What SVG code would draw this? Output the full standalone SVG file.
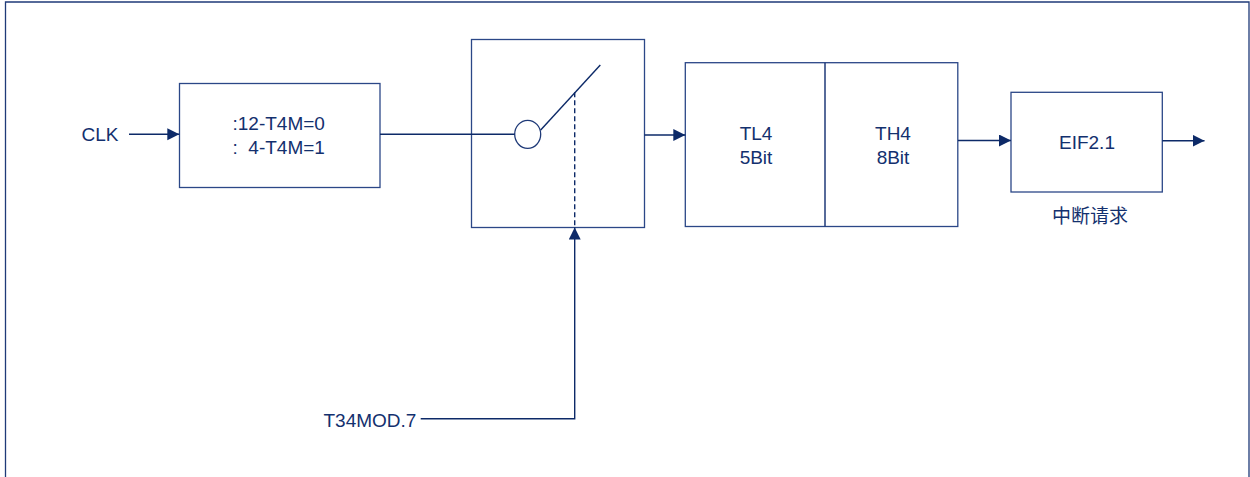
<svg xmlns="http://www.w3.org/2000/svg" width="1250" height="477" viewBox="0 0 1250 477">
<style>
.box{fill:#ffffff;stroke:#2b4787;stroke-width:1.3}
.ln{fill:none;stroke:#0d2a68;stroke-width:1.4}
.dash{fill:none;stroke:#0d2a68;stroke-width:1.4;stroke-dasharray:5,3}
.t{font-family:"Liberation Sans",Arial,sans-serif;font-size:19px;fill:#13306e}
.c{text-anchor:middle}
.cjk{font-family:"Liberation Sans","Noto Sans CJK SC",sans-serif}
</style>
<defs>
<marker id="ah" markerUnits="userSpaceOnUse" markerWidth="13" markerHeight="13" refX="12" refY="6" orient="auto">
<path d="M0,0 L12,6 L0,12 z" fill="#0d2a68"/>
</marker>
</defs>
<rect width="1250" height="477" fill="#ffffff"/>
<path d="M5.5,477 V2 H1249 V477" fill="none" stroke="#1f3a78" stroke-width="1.3"/>

<g id="clk-label"><text class="t" x="81.5" y="141">CLK</text></g>

<g id="divider">
<rect class="box" x="179.5" y="83.5" width="200.5" height="104"/>
<text class="t" x="232.5" y="130" xml:space="preserve">:12-T4M=0</text>
<text class="t" x="232.5" y="154" xml:space="preserve">:  4-T4M=1</text>
</g>

<g id="switch">
<rect class="box" x="471.5" y="39.5" width="173" height="188"/>
<ellipse cx="527.7" cy="134.3" rx="13" ry="14" fill="none" stroke="#1f3a78" stroke-width="1.3"/>
<path class="ln" d="M540.7,130 L600.3,65"/>
</g>

<g id="counter">
<rect class="box" x="685.3" y="62.7" width="272.5" height="163.8"/>
<line x1="825" y1="62.7" x2="825" y2="226.5" stroke="#1f3a78" stroke-width="1.5"/>
<text class="t c" x="756" y="140">TL4</text>
<text class="t c" x="756" y="163.5">5Bit</text>
<text class="t c" x="893" y="140">TH4</text>
<text class="t c" x="893" y="163.5">8Bit</text>
</g>

<g id="eif">
<rect class="box" x="1011" y="92.3" width="151.3" height="99.7"/>
<text class="t c" x="1087" y="149">EIF2.1</text>
</g>

<g id="irq-label"><text class="t c cjk" x="1090" y="223">中断请求</text></g>

<g id="t34mod-label"><text class="t" x="323.5" y="427.3">T34MOD.7</text></g>

<g id="connectors">
<line class="ln" x1="129" y1="134.3" x2="179.3" y2="134.3" marker-end="url(#ah)"/>
<line class="ln" x1="380" y1="134.3" x2="514.7" y2="134.3"/>
<line class="dash" x1="574.7" y1="92.3" x2="574.7" y2="227.5"/>
<line class="ln" x1="644.5" y1="135" x2="685.3" y2="135" marker-end="url(#ah)"/>
<line class="ln" x1="958" y1="140.5" x2="1011" y2="140.5" marker-end="url(#ah)"/>
<line class="ln" x1="1162.3" y1="140.7" x2="1204.5" y2="140.7" marker-end="url(#ah)"/>
<path class="ln" d="M420.7,418.7 H574.7 V227.5" marker-end="url(#ah)"/>
</g>
</svg>
